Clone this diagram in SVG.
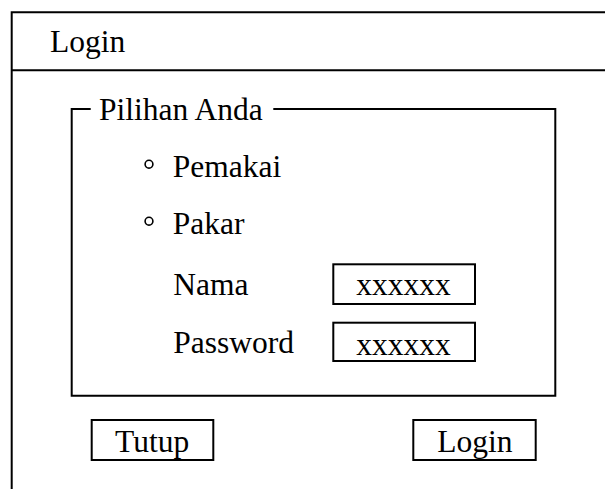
<svg xmlns="http://www.w3.org/2000/svg" width="605" height="489" viewBox="0 0 605 489">
  <style>
    .ln { fill: none; stroke: #000; stroke-width: 2; }
    .box { fill: #fff; stroke: #000; stroke-width: 2; }
    .radio { fill: #fff; stroke: #000; stroke-width: 1.6; }
    .t { font-family: "Liberation Serif", "Times New Roman", serif; font-size: 31.5px; fill: #000; }
    .c { text-anchor: middle; }
  </style>
  <rect width="605" height="489" fill="#fff"/>

  <!-- window frame: left edge, top edge and title bar separator -->
  <g id="window">
    <path class="ln" d="M11.7,489 V12.3 H605 M11.7,70.3 H605"/>
    <text class="t" x="50" y="52.3">Login</text>
  </g>

  <!-- group box with its caption -->
  <g id="pilihan-anda">
    <path class="ln" d="M90.7,109 H71.7 V395.7 H555.3 V109 H273.3"/>
    <text class="t" x="99" y="120">Pilihan Anda</text>
  </g>

  <g id="opt-pemakai">
    <circle class="radio" cx="149" cy="164.2" r="3.9"/>
    <text class="t" x="172.7" y="176.5">Pemakai</text>
  </g>

  <g id="opt-pakar">
    <circle class="radio" cx="149" cy="221.2" r="3.9"/>
    <text class="t" x="172.7" y="234">Pakar</text>
  </g>

  <g id="field-nama">
    <text class="t" x="173.3" y="295">Nama</text>
    <rect class="box" x="333.3" y="264.3" width="141.7" height="39.7"/>
    <text class="t c" x="403.5" y="295">xxxxxx</text>
  </g>

  <g id="field-password">
    <text class="t" x="173.3" y="353">Password</text>
    <rect class="box" x="333.3" y="322.7" width="141.7" height="38.3"/>
    <text class="t c" x="403.5" y="354.5">xxxxxx</text>
  </g>

  <g id="btn-tutup">
    <rect class="box" x="91.7" y="420" width="121.6" height="40"/>
    <text class="t" x="115" y="451.7">Tutup</text>
  </g>

  <g id="btn-login">
    <rect class="box" x="413.3" y="420" width="122.4" height="40"/>
    <text class="t" x="437.3" y="451.7">Login</text>
  </g>
</svg>
